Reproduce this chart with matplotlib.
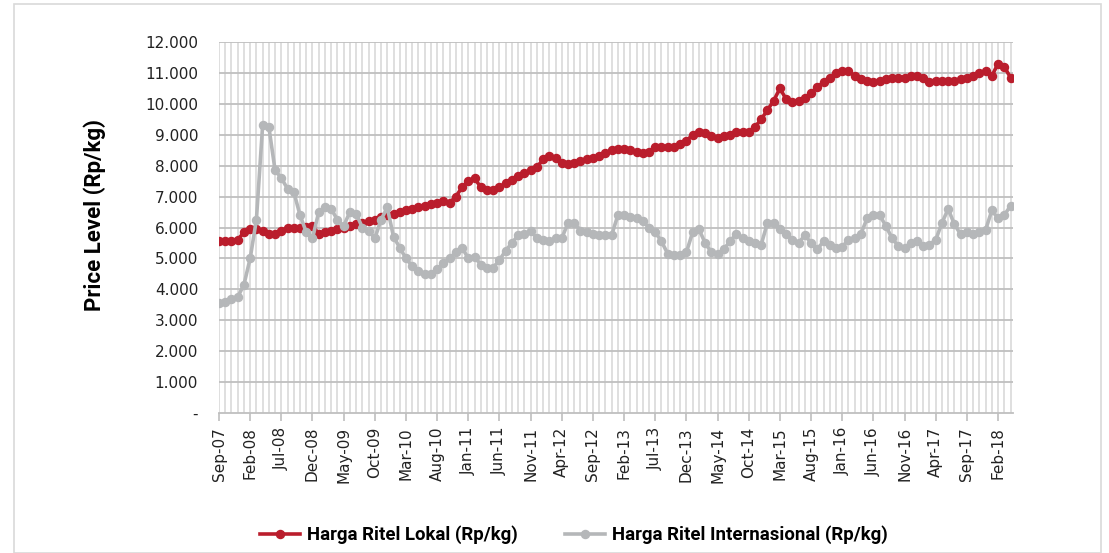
import matplotlib
matplotlib.use("Agg")
import matplotlib.pyplot as plt
from matplotlib.patches import Rectangle

# ---- data (monthly, Sep-07 .. Apr-18) ----
tick_labels = ["Sep-07", "Feb-08", "Jul-08", "Dec-08", "May-09", "Oct-09", "Mar-10",
               "Aug-10", "Jan-11", "Jun-11", "Nov-11", "Apr-12", "Sep-12", "Feb-13",
               "Jul-13", "Dec-13", "May-14", "Oct-14", "Mar-15", "Aug-15", "Jan-16",
               "Jun-16", "Nov-16", "Apr-17", "Sep-17", "Feb-18"]

harga_lokal = [
    5550, 5550, 5570, 5600, 5850, 5950, 5950, 5900, 5800, 5800,
    5900, 6000, 6000, 6000, 6020, 6050, 5800, 5850, 5900, 5950,
    6000, 6050, 6100, 6150, 6200, 6250, 6350, 6400, 6450, 6500,
    6550, 6600, 6650, 6700, 6750, 6800, 6850, 6800, 7000, 7300,
    7500, 7600, 7300, 7200, 7200, 7300, 7450, 7550, 7650, 7750,
    7850, 7950, 8200, 8300, 8250, 8100, 8050, 8100, 8150, 8200,
    8250, 8300, 8400, 8500, 8550, 8550, 8500, 8450, 8400, 8450,
    8600, 8600, 8600, 8600, 8700, 8800, 9000, 9100, 9050, 8950,
    8900, 8950, 9000, 9100, 9100, 9100, 9250, 9500, 9800, 10100,
    10500, 10150, 10050, 10100, 10200, 10350, 10550, 10700, 10850, 11000,
    11050, 11050, 10900, 10800, 10750, 10700, 10750, 10800, 10850, 10850,
    10850, 10900, 10900, 10850, 10700, 10750, 10750, 10750, 10750, 10800,
    10850, 10900, 11000, 11050, 10900, 11300, 11200, 10850]

harga_internasional = [
    3550, 3600, 3700, 3750, 4150, 5000, 6250, 9300, 9250, 7850,
    7600, 7250, 7150, 6400, 5850, 5650, 6500, 6650, 6600, 6250,
    6050, 6500, 6450, 6000, 5900, 5650, 6250, 6650, 5700, 5350,
    5000, 4750, 4600, 4500, 4500, 4650, 4850, 5000, 5200, 5350,
    5000, 5050, 4800, 4700, 4700, 4950, 5250, 5500, 5750, 5780,
    5900, 5650, 5600, 5550, 5650, 5650, 6150, 6150, 5900, 5850,
    5800, 5750, 5750, 5750, 6400, 6400, 6350, 6300, 6200, 6000,
    5850, 5550, 5150, 5100, 5100, 5200, 5850, 5950, 5500, 5200,
    5150, 5300, 5550, 5800, 5650, 5550, 5500, 5450, 6150, 6150,
    5950, 5800, 5600, 5500, 5750, 5500, 5300, 5550, 5450, 5350,
    5380, 5600, 5650, 5800, 6300, 6400, 6400, 6050, 5650, 5400,
    5350, 5500, 5550, 5400, 5450, 5600, 6150, 6600, 6100, 5780,
    5870, 5800, 5870, 5920, 6550, 6300, 6400, 6700]

series_names = ["Harga Ritel Lokal (Rp/kg)", "Harga Ritel Internasional (Rp/kg)"]
y_ticks = [0, 1000, 2000, 3000, 4000, 5000, 6000, 7000, 8000, 9000, 10000, 11000, 12000]

RED = "#BA1D2C"
GREY = "#B5B7B9"
COND = ["Roboto", "DejaVu Sans"]

n = len(harga_lokal)
x = list(range(n))

fig = plt.figure(figsize=(11.09, 5.53), dpi=100)
fig.patches.append(Rectangle((14 / 1109, 0), (1101 - 14) / 1109, 1 - 4 / 553,
                             transform=fig.transFigure, fill=False,
                             edgecolor="#D9D9D9", linewidth=1.2))
ax = fig.add_axes([219 / 1109, 1 - 413 / 553, (1013 - 219) / 1109, (413 - 42) / 553])

# monthly vertical gridlines
for i in range(n + 1):
    ax.axvline(i, color="#DCDCDC", linewidth=1.3, zorder=0)
for v in y_ticks[1:]:
    ax.axhline(v, color="#BFBFBF", linewidth=1.3, zorder=1)

ax.plot(x, harga_lokal, color=RED, linewidth=2.6, marker="o", markersize=5.8,
        label=series_names[0], zorder=3)
ax.plot(x, harga_internasional, color=GREY, linewidth=2.6, marker="o", markersize=5.8,
        label=series_names[1], zorder=3)

ax.set_xlim(0, n - 1 + 0.4)
ax.set_ylim(0, 12000)
for s in ["top", "right", "left"]:
    ax.spines[s].set_visible(False)
ax.spines["bottom"].set_color("#BFBFBF")
ax.spines["bottom"].set_linewidth(1.3)

tick_pos = [5 * k for k in range(len(tick_labels))]
ax.set_xticks(tick_pos)
ax.set_xticklabels(tick_labels, rotation=90, fontsize=11, color="#222222")
ax.tick_params(axis="x", length=6, width=1.2, color="#BFBFBF", pad=4)

ax.set_yticks(y_ticks)
ax.set_yticklabels(["-" if v == 0 else f"{v:,}".replace(",", ".") for v in y_ticks],
                   fontsize=11, color="#222222")
ax.tick_params(axis="y", length=0, pad=15)

ax.set_ylabel("Price Level (Rp/kg)", fontsize=16, fontweight="bold", family=COND)
ax.yaxis.set_label_coords((106 - 219) / 794, (413 - 215) / 371)

leg = fig.legend(loc="center", bbox_to_anchor=(574 / 1109, 1 - 535 / 553), ncol=2,
                 frameon=False, handlelength=2.15, handletextpad=0.38, columnspacing=2.5,
                 prop={"family": COND, "weight": "bold", "size": 13.4})

fig.savefig("out.png", dpi=100)
